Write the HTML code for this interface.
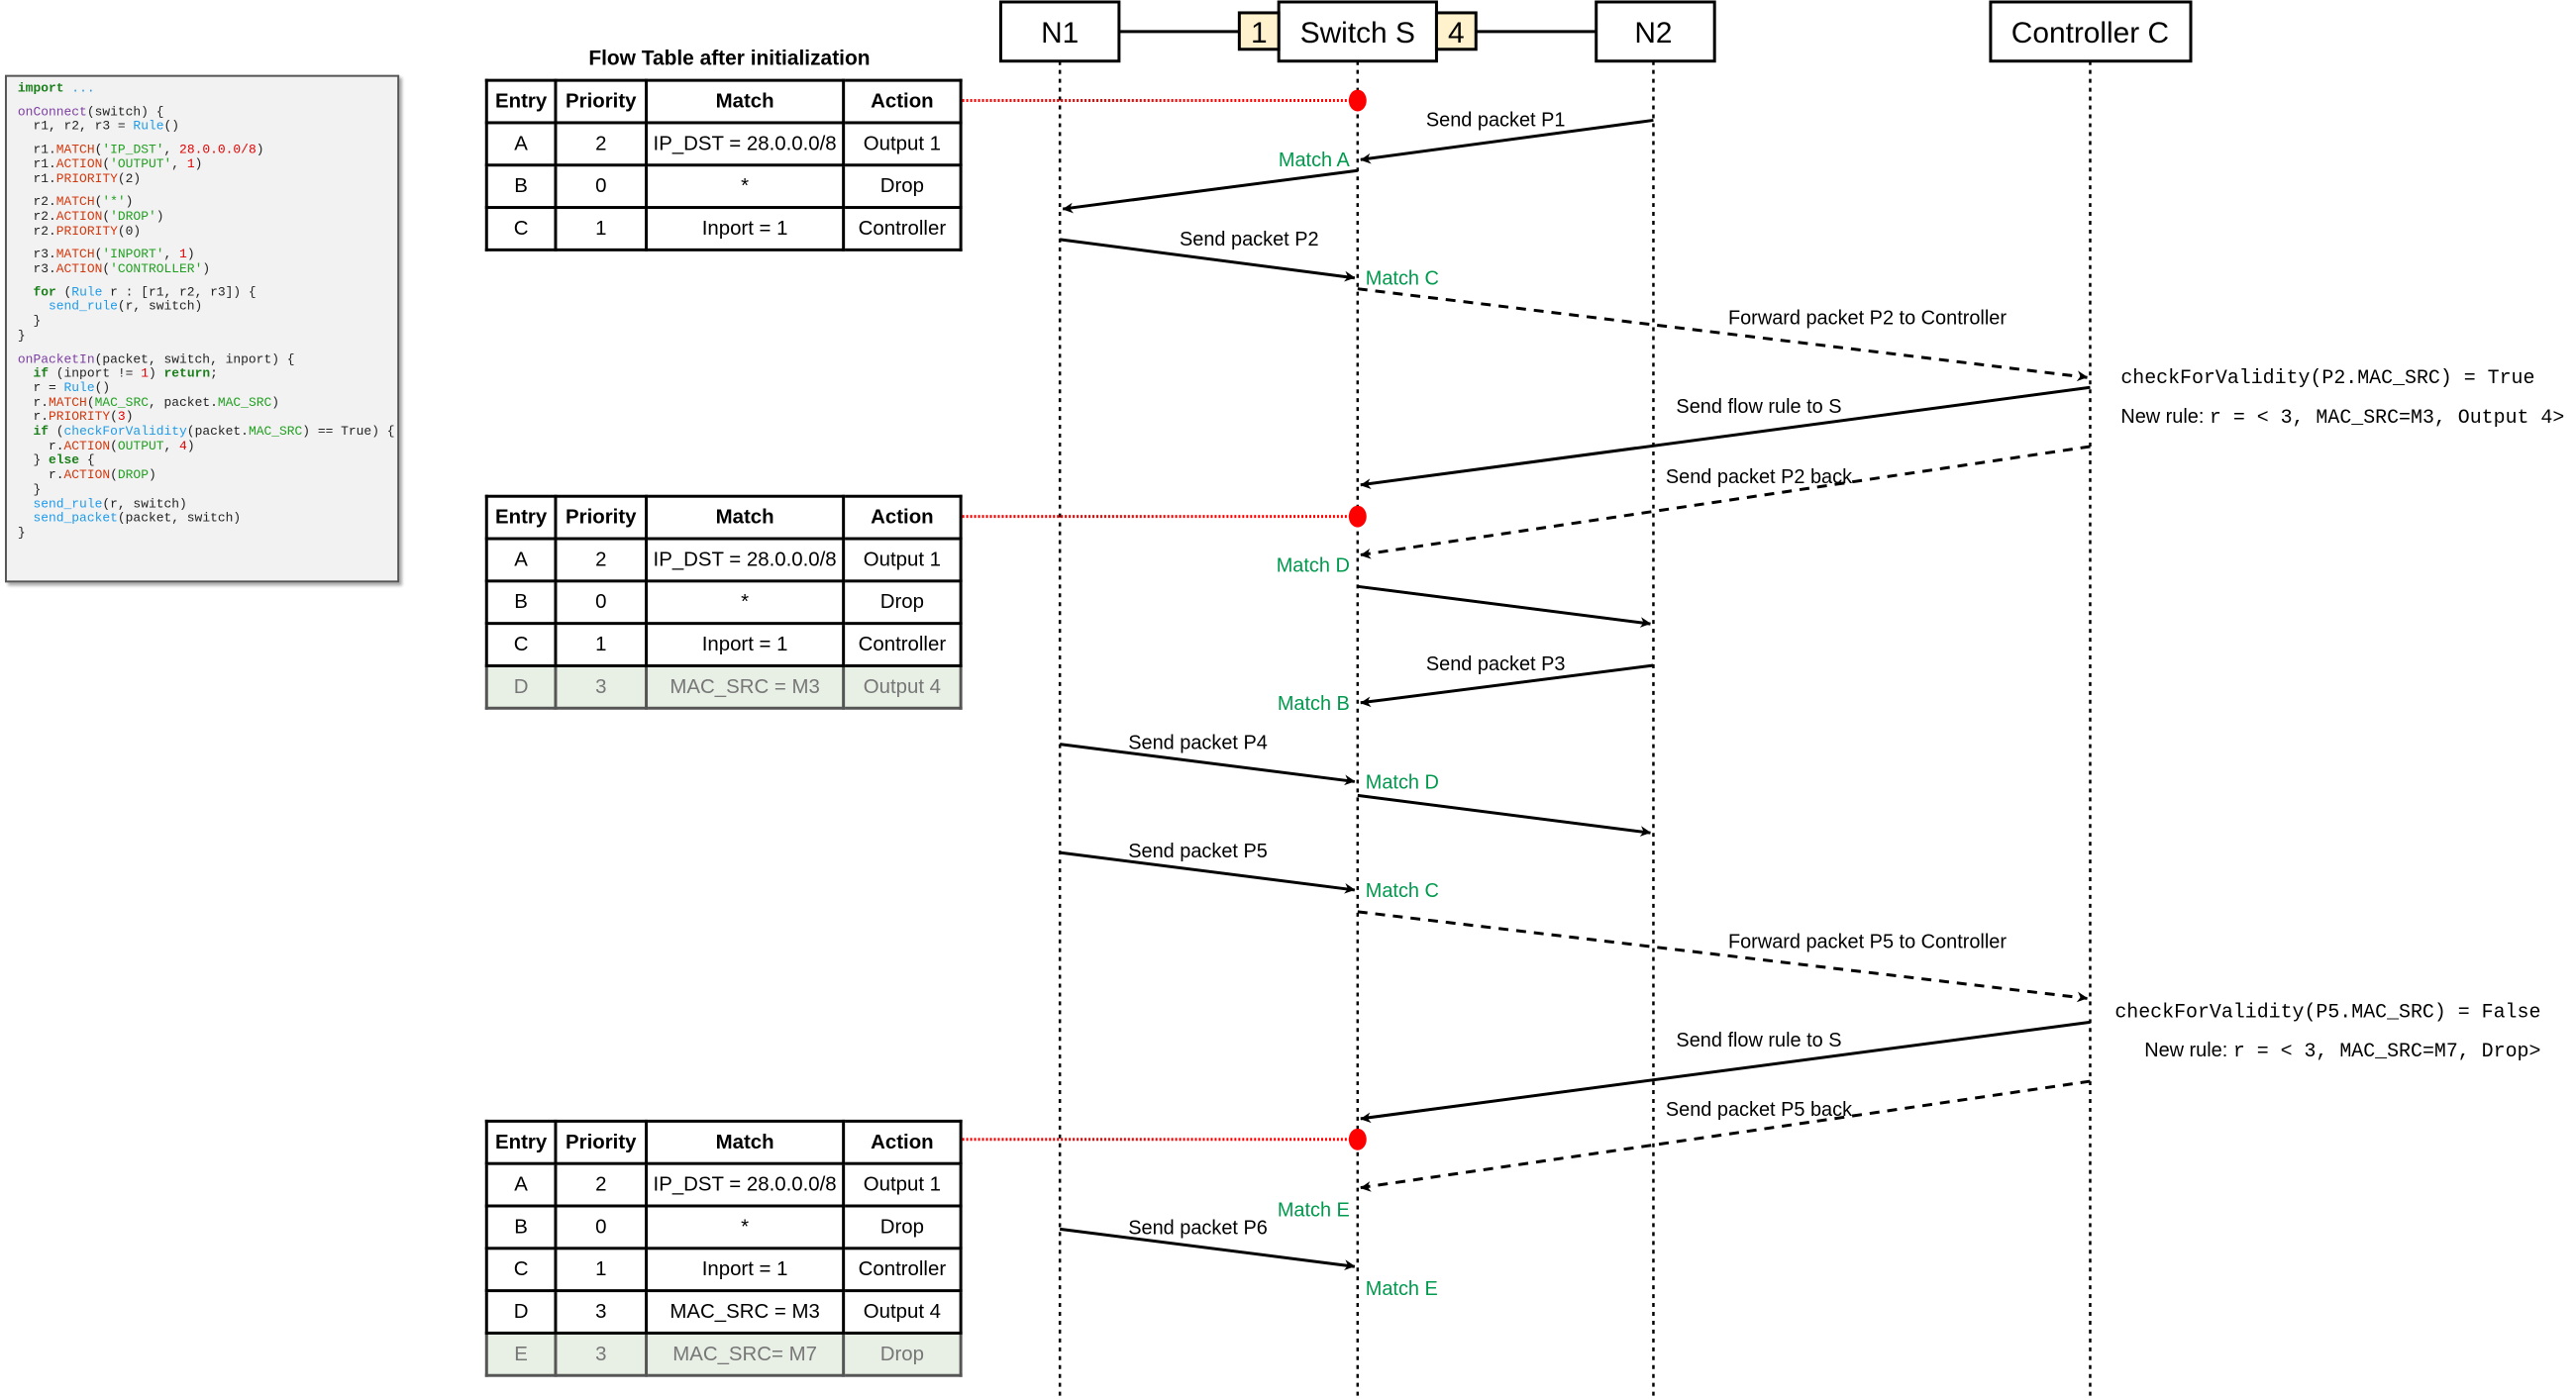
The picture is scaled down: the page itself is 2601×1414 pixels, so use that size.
<!DOCTYPE html>
<html><head><meta charset="utf-8"><style>
html,body{margin:0;padding:0;background:#fff;}
body{width:2601px;height:1404px;position:relative;overflow:hidden;font-family:"Liberation Sans",sans-serif;}
#wrap{position:absolute;left:0;top:0;width:2620px;height:1420px;transform:scale(0.9955);transform-origin:0 0;}
#code{position:absolute;left:5px;top:76px;width:400px;height:515px;background:#f2f2f2;border:2px solid #555;box-shadow:3px 3px 3px #aaa;box-sizing:border-box;padding:5px 0 0 11px;font-family:"Liberation Mono",monospace;font-size:13px;line-height:14.7px;color:#222;white-space:pre;}
#code .g{height:9px;}
.k{color:#1a7f1a;font-weight:bold}.f{color:#7b3fa0}.b{color:#1e9be9}.r{color:#d4380d}.s{color:#22a022}.n{color:#e00000}
table.ft{position:absolute;border-collapse:collapse;font-size:20.5px;table-layout:fixed;}
table.ft td{border:3px solid #000;text-align:center;height:40px;padding:0;}
table.ft tr.h td{font-weight:bold;}
table.ft tr.new td{background:#e8f0e6;color:#777;border-color:#555;}
.title{position:absolute;font-weight:bold;font-size:21px;}
</style></head><body><div id="wrap">
<div id="code"><span class="k">import</span> <span class="b">...</span>
<div class="g"></div><span class="f">onConnect</span>(switch) {
  r1, r2, r3 = <span class="b">Rule</span>()
<div class="g"></div>  r1.<span class="r">MATCH</span>(<span class="s">'IP_DST'</span>, <span class="n">28.0.0.0/8</span>)
  r1.<span class="r">ACTION</span>(<span class="s">'OUTPUT'</span>, <span class="n">1</span>)
  r1.<span class="r">PRIORITY</span>(2)
<div class="g"></div>  r2.<span class="r">MATCH</span>(<span class="s">'*'</span>)
  r2.<span class="r">ACTION</span>(<span class="s">'DROP'</span>)
  r2.<span class="r">PRIORITY</span>(0)
<div class="g"></div>  r3.<span class="r">MATCH</span>(<span class="s">'INPORT'</span>, <span class="n">1</span>)
  r3.<span class="r">ACTION</span>(<span class="s">'CONTROLLER'</span>)
<div class="g"></div>  <span class="k">for</span> (<span class="b">Rule</span> r : [r1, r2, r3]) {
    <span class="b">send_rule</span>(r, switch)
  }
}
<div class="g"></div><span class="f">onPacketIn</span>(packet, switch, inport) {
  <span class="k">if</span> (inport != <span class="n">1</span>) <span class="k">return</span>;
  r = <span class="b">Rule</span>()
  r.<span class="r">MATCH</span>(<span class="s">MAC_SRC</span>, packet.<span class="s">MAC_SRC</span>)
  r.<span class="r">PRIORITY</span>(<span class="n">3</span>)
  <span class="k">if</span> (<span class="b">checkForValidity</span>(packet.<span class="s">MAC_SRC</span>) == True) {
    r.<span class="r">ACTION</span>(<span class="s">OUTPUT</span>, <span class="n">4</span>)
  } <span class="k">else</span> {
    r.<span class="r">ACTION</span>(<span class="s">DROP</span>)
  }
  <span class="b">send_rule</span>(r, switch)
  <span class="b">send_packet</span>(packet, switch)
}</div>

<div class="title" style="left:597px;top:48px;">Flow Table after initialization</div>
<table class="ft" style="left:492px;top:80px;width:481px;">
<colgroup><col style="width:70px"><col style="width:92px"><col style="width:200px"><col style="width:119px"></colgroup>
<tr class="h"><td>Entry</td><td>Priority</td><td>Match</td><td>Action</td></tr>
<tr><td>A</td><td>2</td><td>IP_DST = 28.0.0.0/8</td><td>Output 1</td></tr>
<tr><td>B</td><td>0</td><td>*</td><td>Drop</td></tr>
<tr><td>C</td><td>1</td><td>Inport = 1</td><td>Controller</td></tr>
</table>
<table class="ft" style="left:492px;top:502px;width:481px;">
<colgroup><col style="width:70px"><col style="width:92px"><col style="width:200px"><col style="width:119px"></colgroup>
<tr class="h"><td>Entry</td><td>Priority</td><td>Match</td><td>Action</td></tr>
<tr><td>A</td><td>2</td><td>IP_DST = 28.0.0.0/8</td><td>Output 1</td></tr>
<tr><td>B</td><td>0</td><td>*</td><td>Drop</td></tr>
<tr><td>C</td><td>1</td><td>Inport = 1</td><td>Controller</td></tr>
<tr class="new"><td>D</td><td>3</td><td>MAC_SRC = M3</td><td>Output 4</td></tr>
</table>
<table class="ft" style="left:492px;top:1136px;width:481px;">
<colgroup><col style="width:70px"><col style="width:92px"><col style="width:200px"><col style="width:119px"></colgroup>
<tr class="h"><td>Entry</td><td>Priority</td><td>Match</td><td>Action</td></tr>
<tr><td>A</td><td>2</td><td>IP_DST = 28.0.0.0/8</td><td>Output 1</td></tr>
<tr><td>B</td><td>0</td><td>*</td><td>Drop</td></tr>
<tr><td>C</td><td>1</td><td>Inport = 1</td><td>Controller</td></tr>
<tr><td>D</td><td>3</td><td>MAC_SRC = M3</td><td>Output 4</td></tr>
<tr class="new"><td>E</td><td>3</td><td>MAC_SRC= M7</td><td>Drop</td></tr>
</table>

<svg width="2620" height="1420" style="position:absolute;left:0;top:0" font-family="Liberation Sans, sans-serif">
<defs><marker id="a" viewBox="0 0 10 10" refX="9" refY="5" markerWidth="6" markerHeight="6" markerUnits="userSpaceOnUse" orient="auto" style="overflow:visible"><path d="M0,0 L10,5 L0,10 L3,5 z" fill="#000" transform="scale(1.8) translate(-4.5,-2.5)"/></marker></defs>
<g stroke="#000" stroke-width="2.5" stroke-dasharray="4,5" fill="none">
<line x1="1075" y1="62" x2="1075" y2="1420"/><line x1="1377" y1="62" x2="1377" y2="1420"/>
<line x1="1677" y1="62" x2="1677" y2="1420"/><line x1="2120" y1="62" x2="2120" y2="1420"/>
</g>
<g stroke="#000" stroke-width="3">
<line x1="1135" y1="32" x2="1257" y2="32"/><line x1="1497" y1="32" x2="1619" y2="32"/>
</g>
<g stroke="#000" stroke-width="3" fill="#fff">
<rect x="1015" y="2" width="120" height="60"/><rect x="1297" y="2" width="160" height="60"/>
<rect x="1619" y="2" width="120" height="60"/><rect x="2019" y="2" width="203" height="60"/>
<rect x="1257" y="13" width="40" height="37" fill="#fff2cc"/><rect x="1457" y="13" width="40" height="37" fill="#fff2cc"/>
</g>
<g font-size="30" text-anchor="middle">
<text x="1075" y="43">N1</text><text x="1377" y="43">Switch S</text><text x="1677" y="43">N2</text><text x="2120" y="43">Controller C</text>
<text x="1277" y="43">1</text><text x="1477" y="43">4</text>
</g>
<g stroke="#f00" stroke-width="3" stroke-dasharray="2,2">
<line x1="976" y1="102" x2="1377" y2="102"/><line x1="976" y1="524" x2="1377" y2="524"/><line x1="976" y1="1156" x2="1377" y2="1156"/>
</g>
<g fill="#f00"><ellipse cx="1377" cy="102" rx="9" ry="11"/><ellipse cx="1377" cy="524" rx="9" ry="11"/><ellipse cx="1377" cy="1156" rx="9" ry="11"/></g>
<g stroke="#000" stroke-width="3" marker-end="url(#a)">
<line x1="1677" y1="122" x2="1380" y2="162"/>
<line x1="1377" y1="173" x2="1078" y2="212"/>
<line x1="1075" y1="243" x2="1374" y2="282"/>
<line x1="1377" y1="293" x2="2117" y2="383" stroke-dasharray="10,8"/>
<line x1="2120" y1="393" x2="1380" y2="492"/>
<line x1="2120" y1="453" x2="1380" y2="563" stroke-dasharray="10,8"/>
<line x1="1377" y1="595" x2="1674" y2="633"/>
<line x1="1677" y1="675" x2="1380" y2="713"/>
<line x1="1075" y1="755" x2="1374" y2="793"/>
<line x1="1377" y1="807" x2="1674" y2="845"/>
<line x1="1075" y1="865" x2="1374" y2="903"/>
<line x1="1377" y1="925" x2="2117" y2="1013" stroke-dasharray="10,8"/>
<line x1="2120" y1="1037" x2="1380" y2="1135"/>
<line x1="2120" y1="1097" x2="1380" y2="1205" stroke-dasharray="10,8"/>
<line x1="1075" y1="1247" x2="1374" y2="1285"/>
</g>
<g font-size="20" text-anchor="middle">
<text x="1517" y="128">Send packet P1</text>
<text x="1267" y="249">Send packet P2</text>
<text x="1894" y="329">Forward packet P2 to Controller</text>
<text x="1784" y="419">Send flow rule to S</text>
<text x="1784" y="490">Send packet P2 back</text>
<text x="1517" y="680">Send packet P3</text>
<text x="1215" y="760">Send packet P4</text>
<text x="1215" y="870">Send packet P5</text>
<text x="1894" y="962">Forward packet P5 to Controller</text>
<text x="1784" y="1062">Send flow rule to S</text>
<text x="1784" y="1132">Send packet P5 back</text>
<text x="1215" y="1252">Send packet P6</text>
</g>
<g font-size="20" fill="#00994d">
<text x="1369" y="169" text-anchor="end">Match A</text>
<text x="1385" y="289">Match C</text>
<text x="1369" y="580" text-anchor="end">Match D</text>
<text x="1369" y="720" text-anchor="end">Match B</text>
<text x="1385" y="800">Match D</text>
<text x="1385" y="910">Match C</text>
<text x="1369" y="1234" text-anchor="end">Match E</text>
<text x="1385" y="1314">Match E</text>
</g>
<g font-size="20">
<text x="2151" y="389" font-family="Liberation Mono, monospace">checkForValidity(P2.MAC_SRC) = True</text>
<text x="2151" y="429">New rule: <tspan font-family="Liberation Mono, monospace">r = &lt; 3, MAC_SRC=M3, Output 4&gt;</tspan></text>
<text x="2145" y="1032" font-family="Liberation Mono, monospace">checkForValidity(P5.MAC_SRC) = False</text>
<text x="2175" y="1072">New rule: <tspan font-family="Liberation Mono, monospace">r = &lt; 3, MAC_SRC=M7, Drop&gt;</tspan></text>
</g>
</svg>
</div></body></html>
